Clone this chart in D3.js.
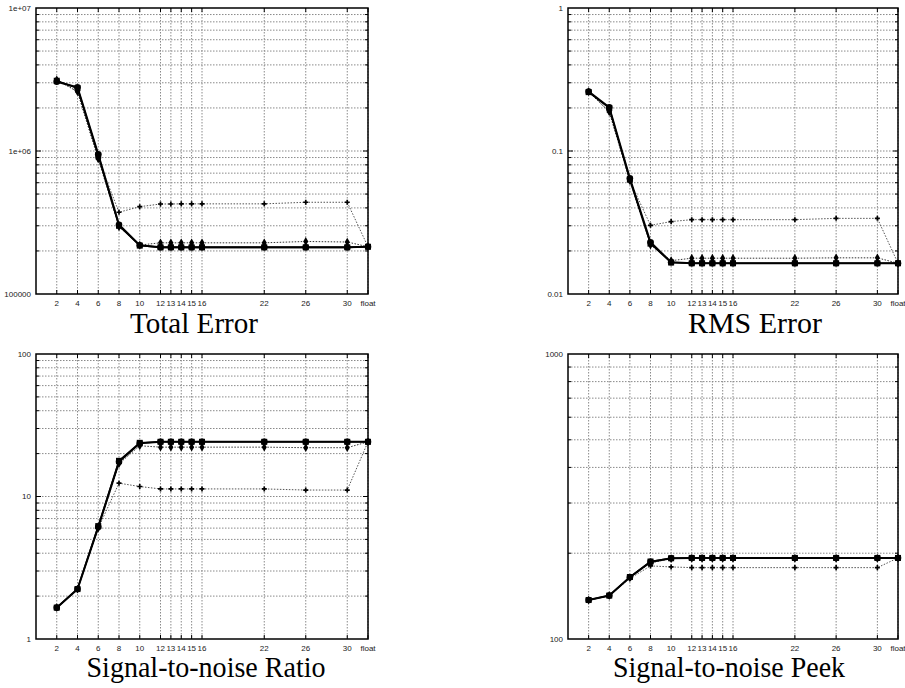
<!DOCTYPE html>
<html>
<head>
<meta charset="utf-8">
<script src="https://cdn.jsdelivr.net/npm/d3@7"></script>
<style>
  html, body { margin: 0; padding: 0; background: #fff; }
  svg { display: block; }
</style>
</head>
<body>
<svg id="chart" width="905" height="688"></svg>
<script>
// ---------------- DATA ----------------
const xLabels = ["2","4","6","8","10","12","13","14","15","16","22","26","30","float"];
const xValues = [2,4,6,8,10,12,13,14,15,16,22,26,30,32];

// Total Error
const totalErrorA = [3.05e6, 2.79e6, 9.5e5, 3.05e5, 2.19e5, 2.12e5, 2.12e5, 2.12e5, 2.12e5, 2.12e5, 2.12e5, 2.12e5, 2.12e5, 2.14e5];
const totalErrorB = [3.1e6, 2.75e6, 9.3e5, 3.0e5, 2.18e5, 2.12e5, 2.12e5, 2.12e5, 2.12e5, 2.12e5, 2.12e5, 2.12e5, 2.12e5, 2.14e5];
const totalErrorC = [3.15e6, 2.6e6, 8.8e5, 2.95e5, 2.2e5, 2.28e5, 2.28e5, 2.28e5, 2.28e5, 2.28e5, 2.28e5, 2.33e5, 2.31e5, 2.14e5];
const totalErrorD = [3.15e6, 2.6e6, 8.8e5, 3.73e5, 4.08e5, 4.26e5, 4.26e5, 4.27e5, 4.27e5, 4.27e5, 4.27e5, 4.38e5, 4.38e5, 2.14e5];

// RMS Error
const rmsErrorA = [0.26, 0.202, 0.0644, 0.023, 0.01667, 0.0164, 0.0164, 0.0164, 0.0164, 0.0164, 0.0164, 0.0164, 0.0164, 0.0164];
const rmsErrorB = [0.258, 0.2, 0.063, 0.0225, 0.0166, 0.0164, 0.0164, 0.0164, 0.0164, 0.0164, 0.0164, 0.0164, 0.0164, 0.0164];
const rmsErrorC = [0.26, 0.188, 0.062, 0.022, 0.0171, 0.0178, 0.0178, 0.0178, 0.0178, 0.0178, 0.0178, 0.0179, 0.0179, 0.0164];
const rmsErrorD = [0.26, 0.188, 0.062, 0.0302, 0.0321, 0.0331, 0.0331, 0.0331, 0.0331, 0.0331, 0.0331, 0.0338, 0.0338, 0.0164];

// Signal-to-noise Ratio
const snrA = [1.66, 2.24, 6.1, 17.5, 23.6, 24.2, 24.2, 24.2, 24.2, 24.2, 24.2, 24.2, 24.2, 24.2];
const snrB = [1.66, 2.24, 6.2, 17.8, 23.8, 24.2, 24.2, 24.2, 24.2, 24.2, 24.2, 24.2, 24.2, 24.2];
const snrC = [1.66, 2.24, 6.0, 17.0, 22.7, 22.2, 22.2, 22.2, 22.2, 22.2, 22.2, 22.0, 22.0, 24.2];
const snrD = [1.66, 2.24, 6.0, 12.4, 11.75, 11.3, 11.3, 11.3, 11.3, 11.3, 11.3, 11.1, 11.1, 24.2];

// Signal-to-noise Peek
const peekA = [137, 142, 164.7, 186.4, 192, 192.5, 192.5, 192.5, 192.5, 192.5, 192.5, 192.5, 192.5, 192.5];
const peekB = [137, 142, 165, 187, 192, 192.5, 192.5, 192.5, 192.5, 192.5, 192.5, 192.5, 192.5, 192.5];
const peekC = [137, 142, 164, 185, 191.5, 191.8, 191.8, 191.8, 191.8, 191.8, 191.8, 191.8, 191.8, 192.5];
const peekD = [137, 142, 163, 180.5, 179, 178, 178, 178, 178, 178, 178, 178, 178, 192.5];

const titles = ["Total Error", "RMS Error", "Signal-to-noise Ratio", "Signal-to-noise Peek"];
const yDomains = [[1e5, 1e7], [0.01, 1], [1, 100], [100, 1000]];
const yTickLabels = [["100000", "1e+06", "1e+07"], ["0.01", "0.1", "1"], ["1", "10", "100"], ["100", "1000"]];
const yTickValues = [[1e5, 1e6, 1e7], [0.01, 0.1, 1], [1, 10, 100], [100, 1000]];

// ---------------- LAYOUT ----------------
const panels = [
  { title: titles[0], yDomain: yDomains[0], yTicks: yTickValues[0], yLabels: yTickLabels[0],
    series: [totalErrorA, totalErrorB, totalErrorC, totalErrorD],
    left: 36, right: 368, top: 8, bottom: 294, titleX: 194, titleY: 333, titleW: 128 },
  { title: titles[1], yDomain: yDomains[1], yTicks: yTickValues[1], yLabels: yTickLabels[1],
    series: [rmsErrorA, rmsErrorB, rmsErrorC, rmsErrorD],
    left: 568, right: 898, top: 8, bottom: 294, titleX: 755, titleY: 333, titleW: 134 },
  { title: titles[2], yDomain: yDomains[2], yTicks: yTickValues[2], yLabels: yTickLabels[2],
    series: [snrA, snrB, snrC, snrD],
    left: 36, right: 368, top: 354, bottom: 639, titleX: 206, titleY: 677, titleW: 239 },
  { title: titles[3], yDomain: yDomains[3], yTicks: yTickValues[3], yLabels: yTickLabels[3],
    series: [peekA, peekB, peekC, peekD],
    left: 568, right: 898, top: 354, bottom: 639, titleX: 729, titleY: 677, titleW: 232 }
];

const svg = d3.select("#chart");
const tickFont = "'Liberation Sans', Arial, sans-serif";

panels.forEach(p => {
  const g = svg.append("g");
  const x = d3.scaleLinear().domain([0, 32]).range([p.left, p.right]);
  const y = d3.scaleLog().domain(p.yDomain).range([p.bottom, p.top]);

  // minor log grid values
  const gridVals = [];
  const lo = Math.round(Math.log10(p.yDomain[0])), hi = Math.round(Math.log10(p.yDomain[1]));
  for (let e = lo; e < hi; e++) {
    for (let m = 1; m <= 9; m++) {
      const v = m * Math.pow(10, e);
      if (v > p.yDomain[0] && v < p.yDomain[1]) gridVals.push({ v, major: m === 1 });
    }
  }

  // horizontal grid
  g.append("g").selectAll("line").data(gridVals).join("line")
    .attr("x1", p.left).attr("x2", p.right)
    .attr("y1", d => y(d.v)).attr("y2", d => y(d.v))
    .attr("stroke", "#8a8a8a").attr("stroke-width", 1)
    .attr("stroke-dasharray", "1.5,1.5");

  // vertical grid
  g.append("g").selectAll("line").data(xValues).join("line")
    .attr("x1", d => x(d)).attr("x2", d => x(d))
    .attr("y1", p.top).attr("y2", p.bottom)
    .attr("stroke", "#8a8a8a").attr("stroke-width", 1)
    .attr("stroke-dasharray", "1.5,1.5");

  // y ticks (inward, mirrored)
  const yt = g.append("g");
  gridVals.forEach(d => {
    const len = d.major ? 5 : 3;
    yt.append("line").attr("x1", p.left).attr("x2", p.left + len)
      .attr("y1", y(d.v)).attr("y2", y(d.v)).attr("stroke", "#000");
    yt.append("line").attr("x1", p.right).attr("x2", p.right - len)
      .attr("y1", y(d.v)).attr("y2", y(d.v)).attr("stroke", "#000");
  });
  // x ticks
  xValues.forEach(v => {
    yt.append("line").attr("x1", x(v)).attr("x2", x(v))
      .attr("y1", p.bottom).attr("y2", p.bottom - 4).attr("stroke", "#000");
    yt.append("line").attr("x1", x(v)).attr("x2", x(v))
      .attr("y1", p.top).attr("y2", p.top + 4).attr("stroke", "#000");
  });

  // frame
  g.append("rect").attr("x", p.left).attr("y", p.top)
    .attr("width", p.right - p.left).attr("height", p.bottom - p.top)
    .attr("fill", "none").attr("stroke", "#000").attr("stroke-width", 1.5);

  // y labels
  g.append("g").selectAll("text").data(p.yTicks).join("text")
    .attr("x", p.left - 5).attr("y", d => y(d))
    .attr("dy", "0.35em").attr("text-anchor", "end")
    .attr("font-family", tickFont).attr("font-size", 8).attr("fill", "#222")
    .text((d, i) => p.yLabels[i]);

  // x labels
  g.append("g").selectAll("text").data(xValues).join("text")
    .attr("x", d => x(d)).attr("y", p.bottom + 9)
    .attr("dy", "0.35em").attr("text-anchor", "middle")
    .attr("font-family", tickFont).attr("font-size", 8).attr("fill", "#222")
    .text((d, i) => xLabels[i]);

  const line = d3.line().x((d, i) => x(xValues[i])).y(d => y(d));
  const [sA, sB, sC, sD] = p.series;

  // dotted series (plus markers, upper/lower)
  g.append("path").attr("d", line(sD)).attr("fill", "none")
    .attr("stroke", "#555").attr("stroke-width", 1).attr("stroke-dasharray", "1.5,1.5");
  // dotted series (diamond markers)
  g.append("path").attr("d", line(sC)).attr("fill", "none")
    .attr("stroke", "#333").attr("stroke-width", 1).attr("stroke-dasharray", "1.5,1.5");
  // thick solid series
  g.append("path").attr("d", line(sB)).attr("fill", "none")
    .attr("stroke", "#000").attr("stroke-width", 1.6);
  g.append("path").attr("d", line(sA)).attr("fill", "none")
    .attr("stroke", "#000").attr("stroke-width", 2);

  // markers
  const plus = d3.symbol().type(d3.symbolCross).size(14);
  g.append("g").selectAll("path").data(sD).join("path")
    .attr("transform", (d, i) => `translate(${x(xValues[i])},${y(d)})`)
    .attr("d", plus).attr("fill", "#000");
  const diamond = d3.symbol().type(d3.symbolDiamond).size(22);
  g.append("g").selectAll("path").data(sC).join("path")
    .attr("transform", (d, i) => `translate(${x(xValues[i])},${y(d)})`)
    .attr("d", diamond).attr("fill", "#000");
  g.append("g").selectAll("rect").data(sB).join("rect")
    .attr("x", (d, i) => x(xValues[i]) - 3).attr("y", d => y(d) - 3)
    .attr("width", 6).attr("height", 6).attr("fill", "#000");
  g.append("g").selectAll("circle").data(sA).join("circle")
    .attr("cx", (d, i) => x(xValues[i])).attr("cy", d => y(d))
    .attr("r", 3.3).attr("fill", "#000");

  // title
  g.append("text").attr("x", p.titleX).attr("y", p.titleY)
    .attr("text-anchor", "middle")
    .attr("font-family", "'Liberation Serif', 'Times New Roman', serif")
    .attr("font-size", 29).attr("fill", "#000")
    .attr("textLength", p.titleW).attr("lengthAdjust", "spacingAndGlyphs")
    .text(p.title);
});
</script>
</body>
</html>
